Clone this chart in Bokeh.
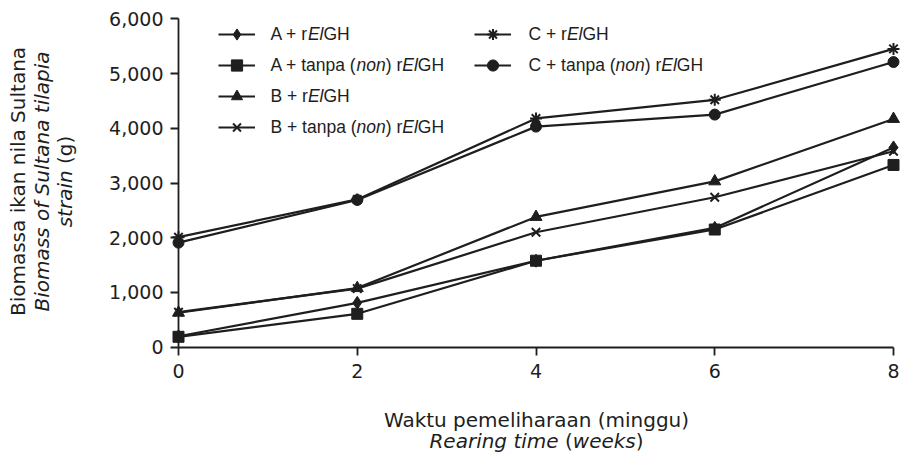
import math
import re
from bokeh.plotting import figure
from bokeh.models import Range1d, FixedTicker, NumeralTickFormatter, Label, Legend, LegendItem
from bokeh.embed import file_html
from bokeh.resources import INLINE

# ---------------- data ----------------
weeks = [0, 2, 4, 6, 8]
a_relgh = [200, 810, 1580, 2180, 3650]
a_non = [190, 610, 1580, 2150, 3330]
b_relgh = [630, 1080, 2380, 3030, 4170]
b_non = [640, 1070, 2100, 2740, 3580]
c_relgh = [2010, 2700, 4180, 4520, 5450]
c_non = [1910, 2690, 4030, 4250, 5210]

series_labels = ["A + rElGH", "A + tanpa (non) rElGH", "B + rElGH",
                 "B + tanpa (non) rElGH", "C + rElGH", "C + tanpa (non) rElGH"]
series_values = [a_relgh, a_non, b_relgh, b_non, c_relgh, c_non]
series_markers = ["diamond", "square", "triangle", "x", "asterisk", "circle"]
marker_sizes = [13, 11, 12, 12, 12, 11]

x_ticks = [0, 2, 4, 6, 8]
y_ticks = [0, 1000, 2000, 3000, 4000, 5000, 6000]

x_title_1 = "Waktu pemeliharaan (minggu)"
x_title_2 = [("Rearing time ", True), ("(", False), ("weeks", True), (")", False)]
y_title_1 = "Biomassa ikan nila Sultana"
y_title_2 = "Biomass of Sultana tilapia"
y_title_3 = [("strain ", True), ("(g)", False)]

# ---------------- geometry (frame = whole canvas) ----------------
W, H = 902, 453
PX0, PX8 = 178, 893      # canvas px of x=0 and x=8
PY0, PY6 = 346.7, 18.3   # canvas px of y=0 and y=6000
upx = 8.0 / (PX8 - PX0)
upy = 6000.0 / (PY0 - PY6)
x_start = -PX0 * upx
x_end = 8 + (W - PX8) * upx
y_start = -(H - PY0) * upy
y_end = 6000 + PY6 * upy

def dx(px):
    return x_start + px * upx

def dy(py):
    return y_start + (H - py) * upy

INK = "#1e1e1e"
TICK_FONT = "DejaVu Sans"
LEG_FONT = "Liberation Sans"

ARIAL = {' ': 278, '+': 584, '(': 333, ')': 333, 'A': 667, 'B': 667, 'C': 722,
         'E': 667, 'G': 778, 'H': 722, 'a': 556, 'n': 556, 'o': 556, 'p': 556,
         'r': 333, 't': 278, 'l': 222}
DEJAVU = {' ': 318, '(': 390, ')': 390, 'R': 695, 'e': 615, 'a': 613, 'r': 411,
          'i': 278, 'n': 634, 'g': 635, 't': 392, 'm': 974, 'w': 818, 'k': 579,
          's': 521}

def tw(text, table, fs):
    return sum(table.get(c, 560) for c in text) / 1000.0 * fs

p = figure(width=W, height=H, output_backend="svg", toolbar_location=None,
           x_range=Range1d(x_start, x_end), y_range=Range1d(y_start, y_end),
           min_border=0, min_border_left=0, min_border_right=0,
           min_border_top=0, min_border_bottom=0)
p.outline_line_color = None
p.grid.visible = False
p.background_fill_color = "white"
p.border_fill_color = "white"

for ax in (p.xaxis[0], p.yaxis[0]):
    ax.axis_line_color = INK
    ax.axis_line_width = 1.8
    ax.major_tick_line_color = INK
    ax.major_tick_line_width = 1.8
    ax.major_tick_in = 0
    ax.major_tick_out = 8
    ax.minor_tick_line_color = None
    ax.major_label_text_font = TICK_FONT
    ax.major_label_text_font_size = "19px"
    ax.major_label_text_color = INK

p.xaxis.ticker = FixedTicker(ticks=x_ticks)
p.xaxis.bounds = (0, 8)
p.xaxis.fixed_location = 0
p.xaxis.major_label_standoff = 9
p.yaxis.ticker = FixedTicker(ticks=y_ticks)
p.yaxis.formatter = NumeralTickFormatter(format="0,0")
p.yaxis.bounds = (0, 6000)
p.yaxis.fixed_location = 0
p.yaxis.major_label_standoff = 7

items = []
for lab, vals, mk, ms in zip(series_labels, series_values, series_markers, marker_sizes):
    lr = p.line(weeks, vals, line_color=INK, line_width=2.2)
    sr = p.scatter(weeks, vals, marker=mk, size=ms, fill_color=INK,
                   line_color=INK, line_width=2 if mk in ("x", "asterisk") else 1)
    items.append(LegendItem(label=" ", renderers=[lr, sr]))

GW, GH_, SP = 37, 28, 3
LEG_TOP = 19.5
for group, col_px in ((items[:4], 218), (items[4:], 474)):
    n = len(group)
    hgt = n * GH_ + (n - 1) * SP
    lg = Legend(items=group, location=(col_px, H - (LEG_TOP + hgt)),
                glyph_width=GW, glyph_height=GH_, spacing=SP, padding=0, margin=0,
                label_standoff=0, label_width=0, label_height=GH_,
                label_text_font_size="1px", border_line_color=None,
                background_fill_alpha=0)
    p.add_layout(lg, "center")

# legend texts with italic parts
LFS = 17.5
for i, lab in enumerate(series_labels):
    col_x = 270 if i < 4 else 528
    row = i if i < 4 else i - 4
    cy = LEG_TOP + GH_ / 2 + row * (GH_ + SP)
    parts = [s for s in re.split(r"(El|non)", lab) if s]
    x = col_x
    for part in parts:
        it = part in ("El", "non")
        p.add_layout(Label(x=dx(x), y=dy(cy), text=part, text_font=LEG_FONT,
                           text_font_size=f"{LFS}px", text_font_style="italic" if it else "normal",
                           text_color=INK, text_align="left", text_baseline="middle"))
        x += tw(part, ARIAL, LFS)

# x axis title
TFS = 20
XC = 536
p.add_layout(Label(x=dx(XC), y=dy(419), text=x_title_1, text_font=TICK_FONT,
                   text_font_size=f"{TFS}px", text_color=INK, text_align="center",
                   text_baseline="alphabetic"))
total = sum(tw(t, DEJAVU, TFS) for t, _ in x_title_2)
x = XC - total / 2
for t, it in x_title_2:
    p.add_layout(Label(x=dx(x), y=dy(440), text=t, text_font=TICK_FONT,
                       text_font_size=f"{TFS}px", text_font_style="italic" if it else "normal",
                       text_color=INK, text_align="left", text_baseline="alphabetic"))
    x += tw(t, DEJAVU, TFS)

# y axis title (rotated)
YFS = 20
YC = 181
p.add_layout(Label(x=dx(17), y=dy(YC), text=y_title_1, angle=math.pi / 2,
                   text_font=TICK_FONT, text_font_size=f"{YFS}px", text_color=INK,
                   text_align="center", text_baseline="alphabetic"))
p.add_layout(Label(x=dx(41), y=dy(YC), text=y_title_2, angle=math.pi / 2,
                   text_font=TICK_FONT, text_font_size=f"{YFS}px", text_color=INK,
                   text_font_style="italic", text_align="center", text_baseline="alphabetic"))
total = sum(tw(t, DEJAVU, YFS) for t, _ in y_title_3)
y = YC + total / 2
for t, it in y_title_3:
    p.add_layout(Label(x=dx(64), y=dy(y), text=t, angle=math.pi / 2,
                       text_font=TICK_FONT, text_font_size=f"{YFS}px", text_color=INK,
                       text_font_style="italic" if it else "normal",
                       text_align="left", text_baseline="alphabetic"))
    y -= tw(t, DEJAVU, YFS)

open("out.html", "w").write(file_html(p, INLINE))
